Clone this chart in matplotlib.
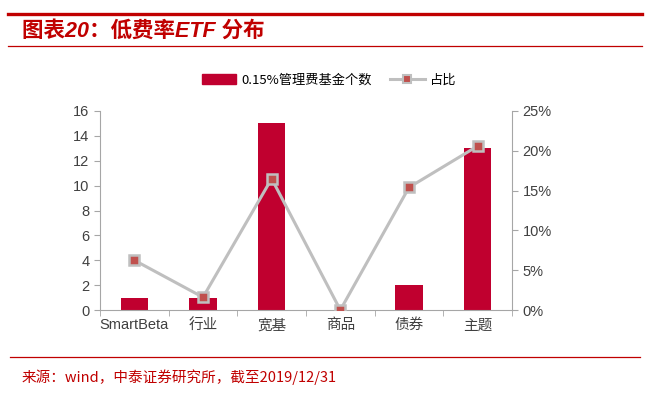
import matplotlib
matplotlib.use("Agg")
import matplotlib.pyplot as plt
from matplotlib.lines import Line2D
from matplotlib.ticker import FuncFormatter, FixedLocator
import numpy as np

plt.rcParams['font.family'] = ['Liberation Sans', 'Noto Sans CJK SC', 'DejaVu Sans']

categories = ['SmartBeta', '行业', '宽基', '商品', '债券', '主题']
fund_counts = [1, 1, 15, 0, 2, 13]
share_pct = [6.25, 1.6, 16.5, 0.0, 15.4, 20.6]

title = '图表20：低费率ETF 分布'
source = '来源：wind，中泰证券研究所，截至2019/12/31'
bar_label = '0.15%管理费基金个数'
line_label = '占比'

RED = '#C00000'
BAR = '#C0002F'
GRAY = '#BFBFBF'
AXC = '#A6A6A6'

fig = plt.figure(figsize=(6.58, 3.93), dpi=100)
W, H = 658, 393

def fx(x):
    return x / W

def fy(y):
    return 1 - y / H

# header / footer lines
fig.add_artist(Line2D([fx(8), fx(642)], [fy(13.5), fy(13.5)], color=RED, lw=2.4))
fig.add_artist(Line2D([fx(8), fx(642)], [fy(46), fy(46)], color=RED, lw=0.9))
fig.add_artist(Line2D([fx(10), fx(640)], [fy(357), fy(357)], color=RED, lw=0.9))
fig.text(fx(22), fy(31), title, color=RED, fontsize=15.5, fontweight='bold',
         fontstyle='italic', family=['Liberation Sans', 'Noto Sans CJK SC'], va='center', ha='left')
fig.text(fx(22), fy(377), source, color=RED, fontsize=10.5,
         family=['Noto Sans CJK SC', 'DejaVu Sans'], va='center', ha='left')

ax = fig.add_axes([fx(100), fy(310), fx(512) - fx(100), fy(111) - fy(310)])
x = np.arange(len(categories))
ax.bar(x, fund_counts, width=0.4, color=BAR, zorder=2)
ax.set_xlim(-0.5, len(categories) - 0.5)
ax.set_ylim(0, 16)
ax.set_yticks(range(0, 17, 2))

ax2 = ax.twinx()
ax2.plot(x, share_pct, color=GRAY, lw=2.2, marker='s', markersize=6.5,
         markerfacecolor='#C0504D', markeredgecolor=GRAY, markeredgewidth=1.8, zorder=3)
ax2.set_ylim(0, 25)
ax2.set_yticks(range(0, 26, 5))
ax2.yaxis.set_major_formatter(FuncFormatter(lambda v, p: f'{int(v)}%'))

for a in (ax, ax2):
    a.spines['top'].set_visible(False)
    a.tick_params(axis='y', colors='#404040', labelsize=10.5, length=4, color=AXC)
ax.spines['right'].set_visible(False)
ax2.spines['left'].set_visible(False)
ax2.spines['bottom'].set_visible(False)
ax.spines['left'].set_color(AXC)
ax.spines['bottom'].set_color(AXC)
ax2.spines['right'].set_color(AXC)

# category ticks: labels at centers, tick marks at boundaries
ax.set_xticks(x)
ax.set_xticklabels(categories, fontsize=10.5, color='#404040')
ax.tick_params(axis='x', length=0, pad=6)
ax.xaxis.set_minor_locator(FixedLocator(np.arange(-0.5, len(categories), 1.0)))
ax.tick_params(axis='x', which='minor', length=4, color=AXC)

# legend
handles = [plt.Rectangle((0, 0), 1, 1, color=BAR),
           Line2D([], [], color=GRAY, lw=2.2, marker='s', markersize=5.5,
                  markerfacecolor='#C0504D', markeredgecolor=GRAY, markeredgewidth=1.5)]
fig.legend(handles, [bar_label, line_label], loc='center', bbox_to_anchor=(fx(329), fy(80)),
           ncol=2, frameon=False, handlelength=2.6, columnspacing=1.4,
           handletextpad=0.4, prop={'family': ['Noto Sans CJK SC', 'DejaVu Sans'], 'size': 9.5})

fig.savefig('out.png', dpi=100)
